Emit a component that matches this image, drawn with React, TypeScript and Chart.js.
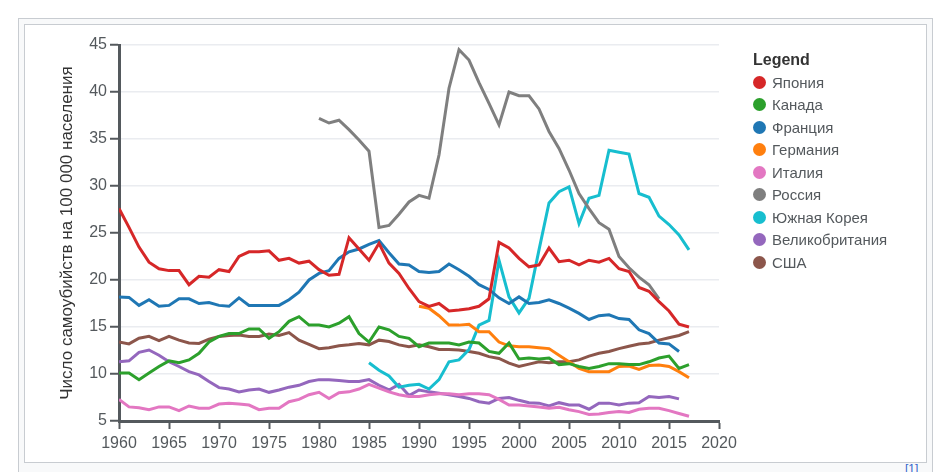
import { useEffect, useRef } from "react";
import { Chart, registerables } from "chart.js";

Chart.register(...registerables);

// years 1960..2017
const years = Array.from({ length: 58 }, (_, i) => 1960 + i);

const japan = [
  27.6, 25.6, 23.5, 21.9, 21.2, 21.0, 21.0, 19.5, 20.4, 20.3,
  21.1, 20.9, 22.5, 23.0, 23.0, 23.1, 22.1, 22.3, 21.8, 22.0,
  21.1, 20.5, 20.6, 24.5, 23.3, 22.1, 23.9, 21.8, 20.7, 19.1,
  17.7, 17.2, 17.5, 16.7, 16.8, 16.95, 17.2, 18.0, 24.0, 23.4,
  22.3, 21.4, 21.6, 23.4, 21.95, 22.1, 21.6, 22.1, 21.9, 22.3,
  21.2, 20.9, 19.2, 18.8, 17.7, 16.7, 15.3, 15.0,
];

const canada = [
  10.1, 10.1, 9.4, 10.1, 10.8, 11.4, 11.2, 11.5, 12.2, 13.4,
  14.0, 14.3, 14.3, 14.8, 14.8, 13.8, 14.5, 15.6, 16.1, 15.2,
  15.2, 15.0, 15.4, 16.1, 14.3, 13.4, 15.0, 14.7, 14.0, 13.8,
  12.9, 13.3, 13.3, 13.3, 13.1, 13.4, 13.3, 12.4, 12.2, 13.3,
  11.6, 11.7, 11.6, 11.7, 11.0, 11.1, 10.8, 10.6, 10.8, 11.1,
  11.1, 11.0, 11.0, 11.3, 11.7, 11.9, 10.6, 11.0,
];

const france = [
  18.2, 18.15, 17.3, 17.9, 17.2, 17.3, 18.0, 18.0, 17.5, 17.6,
  17.3, 17.2, 18.1, 17.3, 17.3, 17.3, 17.3, 17.9, 18.7, 20.0,
  20.7, 21.0, 22.3, 23.0, 23.3, 23.8, 24.2, 22.9, 21.7, 21.6,
  20.9, 20.8, 20.9, 21.7, 21.1, 20.4, 19.5, 19.0, 18.1, 17.5,
  18.2, 17.5, 17.6, 17.9, 17.5, 17.0, 16.45, 15.8, 16.2, 16.3,
  15.9, 15.8, 14.7, 14.3, 13.3, 13.2, 12.4, null,
];

const germany = [
  ...Array(30).fill(null),
  17.2, 17.0, 16.2, 15.2, 15.2, 15.3, 14.5, 14.5, 13.4, 13.0,
  12.9, 12.9, 12.8, 12.7, 12.0, 11.3, 10.6, 10.25, 10.25, 10.25,
  10.8, 10.85, 10.5, 10.9, 10.96, 10.8, 10.25, 9.6,
];

const italy = [
  7.3, 6.5, 6.4, 6.2, 6.5, 6.5, 6.1, 6.6, 6.35, 6.35,
  6.8, 6.9, 6.8, 6.7, 6.2, 6.35, 6.35, 7.05, 7.3, 7.8,
  8.05, 7.4, 8.0, 8.1, 8.4, 8.9, 8.5, 8.1, 7.8, 7.6,
  7.6, 7.8, 7.9, 7.9, 7.8, 7.9, 7.9, 7.8, 7.3, 6.7,
  6.7, 6.6, 6.5, 6.35, 6.45, 6.2, 6.0, 5.7, 5.75, 5.9,
  6.0, 5.9, 6.25, 6.35, 6.35, 6.1, 5.8, 5.5,
];

const russia = [
  ...Array(20).fill(null),
  37.2, 36.7, 37.0, 36.0, 34.9, 33.7, 25.6, 25.8, 27.0, 28.3,
  29.0, 28.7, 33.3, 40.4, 44.5, 43.4, 41.0, 38.8, 36.5, 40.0,
  39.6, 39.6, 38.2, 35.8, 34.0, 31.7, 29.2, 27.6, 26.1, 25.4,
  22.5, 21.3, 20.3, 19.5, 18.0, null, null, null,
];

const korea = [
  ...Array(25).fill(null),
  11.2, 10.4, 9.8, 8.6, 8.8,
  8.9, 8.4, 9.4, 11.3, 11.5, 12.6, 15.2, 15.7, 22.1, 18.2,
  16.5, 18.05, 23.2, 28.2, 29.4, 29.9, 26.0, 28.7, 29.0, 33.8,
  33.6, 33.4, 29.2, 28.8, 26.8, 25.9, 24.8, 23.2,
];

const uk = [
  11.3, 11.4, 12.3, 12.55, 12.0, 11.3, 10.8, 10.25, 9.9, 9.2,
  8.55, 8.4, 8.1, 8.3, 8.4, 8.05, 8.3, 8.6, 8.8, 9.2,
  9.4, 9.4, 9.3, 9.2, 9.2, 9.4, 8.8, 8.3, 8.9, 7.7,
  8.3, 8.1, 7.95, 7.8, 7.6, 7.4, 7.05, 6.9, 7.4, 7.5,
  7.2, 6.95, 6.9, 6.6, 6.95, 6.7, 6.7, 6.25, 6.9, 6.9,
  6.7, 6.9, 6.95, 7.6, 7.5, 7.6, 7.35, null,
];

const usa = [
  13.4, 13.2, 13.8, 14.0, 13.55, 14.0, 13.6, 13.3, 13.25, 13.7,
  14.0, 14.1, 14.15, 14.0, 14.0, 14.25, 14.1, 14.4, 13.6, 13.15,
  12.7, 12.8, 13.0, 13.1, 13.25, 13.1, 13.6, 13.45, 13.1, 12.9,
  13.1, 12.9, 12.6, 12.6, 12.55, 12.4, 12.2, 11.85, 11.65, 11.15,
  10.8, 11.05, 11.3, 11.2, 11.3, 11.3, 11.5, 11.9, 12.2, 12.4,
  12.7, 12.95, 13.2, 13.3, 13.6, 13.85, 14.1, 14.5,
];

const series = [
  { label: "Япония", data: japan, color: "#d62728" },
  { label: "Канада", data: canada, color: "#2ca02c" },
  { label: "Франция", data: france, color: "#1f77b4" },
  { label: "Германия", data: germany, color: "#ff7f0e" },
  { label: "Италия", data: italy, color: "#e377c2" },
  { label: "Россия", data: russia, color: "#7f7f7f" },
  { label: "Южная Корея", data: korea, color: "#17becf" },
  { label: "Великобритания", data: uk, color: "#9467bd" },
  { label: "США", data: usa, color: "#8c564b" },
];

const FONT = "'Liberation Sans', Arial, Helvetica, sans-serif";
const AXIS = "#54595d";

export default function App() {
  const canvasRef = useRef<HTMLCanvasElement>(null);
  const chartRef = useRef<Chart | null>(null);

  useEffect(() => {
    if (!canvasRef.current) return;
    if (chartRef.current) chartRef.current.destroy();

    Chart.defaults.font.family = FONT;

    chartRef.current = new Chart(canvasRef.current, {
      type: "line",
      data: {
        datasets: series.map((s) => ({
          label: s.label,
          data: years.map((y, i) => ({ x: y, y: s.data[i] })),
          borderColor: s.color,
          backgroundColor: s.color,
          borderWidth: 3,
          pointRadius: 0,
          fill: false,
          tension: 0,
          spanGaps: false,
        })),
      },
      options: {
        animation: false,
        responsive: true,
        maintainAspectRatio: false,
        layout: { padding: { left: 28, top: 20, right: 36, bottom: 0 } },
        plugins: {
          legend: { display: false },
          tooltip: { enabled: false },
        },
        scales: {
          x: {
            type: "linear",
            min: 1960,
            max: 2020,
            afterFit: (scale) => {
              scale.height = 40;
            },
            ticks: {
              stepSize: 5,
              color: AXIS,
              font: { size: 16 },
              padding: 5,
              maxRotation: 0,
              callback: (v) => String(v),
            },
            grid: {
              drawOnChartArea: false,
              drawTicks: true,
              tickLength: 8,
              tickWidth: 2,
              tickColor: AXIS,
            },
            border: { color: AXIS, width: 3 },
          },
          y: {
            min: 5,
            max: 45,
            afterFit: (scale) => {
              scale.width = 66;
            },
            ticks: {
              stepSize: 5,
              color: AXIS,
              font: { size: 16 },
              padding: 3,
            },
            grid: {
              color: "#eaecf0",
              lineWidth: 1.5,
              drawTicks: true,
              tickLength: 9,
              tickWidth: 2,
              tickColor: AXIS,
            },
            border: { color: AXIS, width: 3 },
            title: {
              display: true,
              text: "Число самоубийств на 100 000 населения",
              color: "#333",
              font: { size: 17 },
              padding: { top: 4, bottom: 4 },
            },
          },
        },
      },
    });

    return () => {
      if (chartRef.current) {
        chartRef.current.destroy();
        chartRef.current = null;
      }
    };
  }, []);

  return (
    <div
      style={{
        position: "absolute",
        left: 0,
        top: 0,
        width: 939,
        height: 472,
        overflow: "hidden",
        background: "#fff",
        fontFamily: FONT,
      }}
    >
      <div
        style={{
          position: "absolute",
          left: 18,
          top: 18,
          width: 913,
          height: 470,
          border: "1px solid #c8ccd1",
          background: "#f8f9fa",
        }}
      />
      <div
        style={{
          position: "absolute",
          left: 24,
          top: 24,
          width: 901,
          height: 437,
          border: "1px solid #c8ccd1",
          background: "#fff",
        }}
      />
      <div style={{ position: "absolute", left: 25, top: 25, width: 730, height: 436 }}>
        <canvas ref={canvasRef} />
      </div>
      <div style={{ position: "absolute", left: 753, top: 49 }}>
        <div style={{ fontWeight: "bold", fontSize: 16, color: "#333", height: 22, lineHeight: "22px" }}>
          Legend
        </div>
        {series.map((s) => (
          <div
            key={s.label}
            style={{ display: "flex", alignItems: "center", height: 22.5, fontSize: 15, color: AXIS }}
          >
            <span
              style={{
                display: "inline-block",
                width: 13,
                height: 13,
                borderRadius: "50%",
                background: s.color,
                marginRight: 6,
              }}
            />
            {s.label}
          </div>
        ))}
      </div>
      <div
        style={{ position: "absolute", left: 905, top: 462, fontSize: 12, color: "#36c", lineHeight: "14px" }}
      >
        [1]
      </div>
    </div>
  );
}
